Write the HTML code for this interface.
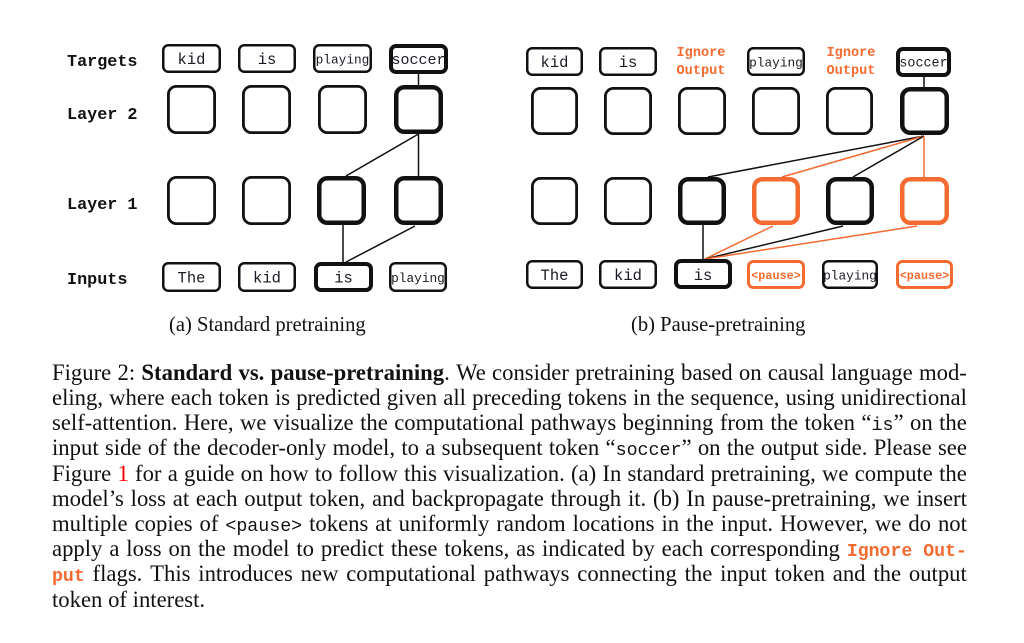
<!DOCTYPE html>
<html>
<head>
<meta charset="utf-8">
<style>
  html,body{margin:0;padding:0;background:#fff;}
  body{width:1024px;height:643px;position:relative;overflow:hidden;}
  .cap{position:absolute;font-family:"Liberation Serif",serif;font-size:20.6px;line-height:23px;color:#111;white-space:nowrap;}
  .ln{position:absolute;left:52px;width:915px;height:25.2px;display:flex;justify-content:space-between;align-items:baseline;font-family:"Liberation Serif",serif;font-size:22.7px;line-height:25.2px;color:#111;white-space:nowrap;}
  .ln span{white-space:pre;}
  .m{font-family:"Liberation Mono",monospace;font-size:18.3px;}
  .o{font-family:"Liberation Mono",monospace;font-size:18.2px;font-weight:bold;color:#F56A30;}
  .r{color:#FF0000;}
  .last{position:absolute;left:52px;font-family:"Liberation Serif",serif;font-size:22.7px;line-height:25.2px;color:#111;white-space:nowrap;}
</style>
</head>
<body>
<svg width="1024" height="643" style="position:absolute;left:0;top:0" xmlns="http://www.w3.org/2000/svg">
  <g font-family="Liberation Mono, monospace" font-weight="bold" font-size="16.8" fill="#111">
    <text x="67" y="66">Targets</text>
    <text x="67" y="119">Layer 2</text>
    <text x="67" y="209">Layer 1</text>
    <text x="67" y="284">Inputs</text>
  </g>

  <g stroke="#111" stroke-width="1.5" fill="none">
    <line x1="418.5" y1="74" x2="418.5" y2="86"/>
    <line x1="418.5" y1="134" x2="346" y2="176"/>
    <line x1="418.5" y1="134" x2="418.5" y2="176"/>
    <line x1="343" y1="225" x2="343" y2="262"/>
    <line x1="415" y1="226" x2="346" y2="262"/>
  </g>

  <g fill="#fff" stroke="#111">
    <rect x="163.25" y="45.25" width="56.5" height="26.5" rx="5" stroke-width="2.5"/>
    <rect x="239.25" y="45.25" width="55.5" height="26.5" rx="5" stroke-width="2.5"/>
    <rect x="314.25" y="45.25" width="56.5" height="26.5" rx="5" stroke-width="2.5"/>
    <rect x="391" y="46" width="55" height="26" rx="5" stroke-width="4"/>
    <rect x="168.4" y="86.4" width="46.2" height="46.2" rx="8" stroke-width="2.8"/>
    <rect x="243.4" y="86.4" width="46.2" height="46.2" rx="8" stroke-width="2.8"/>
    <rect x="319.4" y="86.4" width="46.2" height="46.2" rx="8" stroke-width="2.8"/>
    <rect x="396.25" y="87.25" width="44.5" height="44.5" rx="8" stroke-width="4.5"/>
    <rect x="168.4" y="177.4" width="46.2" height="46.2" rx="8" stroke-width="2.8"/>
    <rect x="243.4" y="177.4" width="46.2" height="46.2" rx="8" stroke-width="2.8"/>
    <rect x="319.25" y="178.25" width="44.5" height="44.5" rx="8" stroke-width="4.5"/>
    <rect x="396.25" y="178.25" width="44.5" height="44.5" rx="8" stroke-width="4.5"/>
    <rect x="163.25" y="263.25" width="56.5" height="27.5" rx="5" stroke-width="2.5"/>
    <rect x="239.25" y="263.25" width="55.5" height="27.5" rx="5" stroke-width="2.5"/>
    <rect x="316" y="264" width="55" height="26" rx="5" stroke-width="4"/>
    <rect x="390.25" y="263.25" width="55.5" height="27.5" rx="5" stroke-width="2.5"/>
  </g>
  <g font-family="Liberation Mono, monospace" fill="#1a1a24" text-anchor="middle">
    <text x="191.5" y="64" font-size="15.5">kid</text>
    <text x="267" y="64" font-size="15.5">is</text>
    <text x="342.5" y="63.5" font-size="12.8">playing</text>
    <text x="418.5" y="64" font-size="15">soccer</text>
    <text x="191.5" y="282.5" font-size="15.5">The</text>
    <text x="267" y="282.5" font-size="15.5">kid</text>
    <text x="343.5" y="282.5" font-size="15.5">is</text>
    <text x="418" y="282" font-size="12.8">playing</text>
  </g>

  <g stroke-width="1.5" fill="none">
    <line x1="924" y1="77" x2="924" y2="88" stroke="#111"/>
    <line x1="924" y1="136" x2="708" y2="177" stroke="#111"/>
    <line x1="924" y1="136" x2="782" y2="177" stroke="#F56A30"/>
    <line x1="924" y1="136" x2="853" y2="177" stroke="#111"/>
    <line x1="924" y1="136" x2="924" y2="177" stroke="#F56A30"/>
    <line x1="703" y1="225" x2="703" y2="259" stroke="#111"/>
    <line x1="773" y1="226" x2="705" y2="259" stroke="#F56A30"/>
    <line x1="843" y1="226" x2="705" y2="259" stroke="#111"/>
    <line x1="917" y1="226" x2="705" y2="259" stroke="#F56A30"/>
  </g>

  <g fill="#fff" stroke="#111">
    <rect x="527.25" y="48.25" width="54.5" height="26.5" rx="5" stroke-width="2.5"/>
    <rect x="600.25" y="48.25" width="55.5" height="26.5" rx="5" stroke-width="2.5"/>
    <rect x="748.25" y="48.25" width="55.5" height="26.5" rx="5" stroke-width="2.5"/>
    <rect x="898" y="49" width="51" height="26" rx="5" stroke-width="4"/>
    <rect x="532.4" y="88.4" width="44.2" height="45.2" rx="8" stroke-width="2.8"/>
    <rect x="605.4" y="88.4" width="45.2" height="45.2" rx="8" stroke-width="2.8"/>
    <rect x="679.4" y="88.4" width="45.2" height="45.2" rx="8" stroke-width="2.8"/>
    <rect x="753.4" y="88.4" width="45.2" height="45.2" rx="8" stroke-width="2.8"/>
    <rect x="827.4" y="88.4" width="44.2" height="45.2" rx="8" stroke-width="2.8"/>
    <rect x="902.25" y="89.25" width="44.5" height="43.5" rx="8" stroke-width="4.5"/>
    <rect x="532.4" y="178.4" width="44.2" height="45.2" rx="8" stroke-width="2.8"/>
    <rect x="605.4" y="178.4" width="45.2" height="45.2" rx="8" stroke-width="2.8"/>
    <rect x="680.25" y="179.25" width="43.5" height="43.5" rx="8" stroke-width="4.5"/>
    <rect x="754.25" y="179.25" width="43.5" height="43.5" rx="8" stroke-width="4.5" stroke="#F56A30"/>
    <rect x="828.25" y="179.25" width="43.5" height="43.5" rx="8" stroke-width="4.5"/>
    <rect x="902.25" y="179.25" width="44.5" height="43.5" rx="8" stroke-width="4.5" stroke="#F56A30"/>
    <rect x="527.25" y="261.25" width="54.5" height="26.5" rx="5" stroke-width="2.5"/>
    <rect x="600.25" y="261.25" width="55.5" height="26.5" rx="5" stroke-width="2.5"/>
    <rect x="676" y="261" width="54" height="26" rx="5" stroke-width="4"/>
    <rect x="748.5" y="261.5" width="55" height="26" rx="5" stroke-width="3" stroke="#F56A30"/>
    <rect x="823.25" y="261.25" width="53.5" height="26.5" rx="5" stroke-width="2.5"/>
    <rect x="897.5" y="261.5" width="54" height="26" rx="5" stroke-width="3" stroke="#F56A30"/>
  </g>
  <g font-family="Liberation Mono, monospace" fill="#1a1a24" text-anchor="middle">
    <text x="554.5" y="67" font-size="15.5">kid</text>
    <text x="628" y="67" font-size="15.5">is</text>
    <text x="776" y="66.5" font-size="12.8">playing</text>
    <text x="923.5" y="66.5" font-size="13.4">soccer</text>
    <text x="554.5" y="280" font-size="15.5">The</text>
    <text x="628" y="280" font-size="15.5">kid</text>
    <text x="703" y="280" font-size="15.5">is</text>
    <text x="850" y="279.5" font-size="12.8">playing</text>
  </g>
  <g font-family="Liberation Mono, monospace" font-weight="bold" fill="#F56A30" text-anchor="middle">
    <text x="701" y="56" font-size="13.6">Ignore</text>
    <text x="701" y="74" font-size="13.6">Output</text>
    <text x="851" y="56" font-size="13.6">Ignore</text>
    <text x="851" y="74" font-size="13.6">Output</text>
    <text x="776" y="279" font-size="11.8">&lt;pause&gt;</text>
    <text x="924.5" y="279" font-size="11.8">&lt;pause&gt;</text>
  </g>
</svg>

<div class="cap" style="left:169px;top:313.6px;">(a) Standard pretraining</div>
<div class="cap" style="left:631px;top:313.6px;">(b) Pause-pretraining</div>

<div class="ln" style="top:359.8px;"><span>Figure</span><span>2:</span><span><b>Standard</b></span><span><b>vs.</b></span><span><b>pause-pretraining</b>.</span><span>We</span><span>consider</span><span>pretraining</span><span>based</span><span>on</span><span>causal</span><span>language</span><span>mod-</span></div>
<div class="ln" style="top:385px;"><span>eling,</span><span>where</span><span>each</span><span>token</span><span>is</span><span>predicted</span><span>given</span><span>all</span><span>preceding</span><span>tokens</span><span>in</span><span>the</span><span>sequence,</span><span>using</span><span>unidirectional</span></div>
<div class="ln" style="top:410.2px;"><span>self-attention.</span><span>Here,</span><span>we</span><span>visualize</span><span>the</span><span>computational</span><span>pathways</span><span>beginning</span><span>from</span><span>the</span><span>token</span><span>“<span class="m">is</span>”</span><span>on</span><span>the</span></div>
<div class="ln" style="top:435.4px;"><span>input</span><span>side</span><span>of</span><span>the</span><span>decoder-only</span><span>model,</span><span>to</span><span>a</span><span>subsequent</span><span>token</span><span>“<span class="m">soccer</span>”</span><span>on</span><span>the</span><span>output</span><span>side.</span><span>Please</span><span>see</span></div>
<div class="ln" style="top:460.6px;"><span>Figure</span><span class="r">1</span><span>for</span><span>a</span><span>guide</span><span>on</span><span>how</span><span>to</span><span>follow</span><span>this</span><span>visualization.</span><span>(a)</span><span>In</span><span>standard</span><span>pretraining,</span><span>we</span><span>compute</span><span>the</span></div>
<div class="ln" style="top:485.8px;"><span>model’s</span><span>loss</span><span>at</span><span>each</span><span>output</span><span>token,</span><span>and</span><span>backpropagate</span><span>through</span><span>it.</span><span>(b)</span><span>In</span><span>pause-pretraining,</span><span>we</span><span>insert</span></div>
<div class="ln" style="top:511px;"><span>multiple</span><span>copies</span><span>of</span><span class="m">&lt;pause&gt;</span><span>tokens</span><span>at</span><span>uniformly</span><span>random</span><span>locations</span><span>in</span><span>the</span><span>input.</span><span>However,</span><span>we</span><span>do</span><span>not</span></div>
<div class="ln" style="top:536.2px;"><span>apply</span><span>a</span><span>loss</span><span>on</span><span>the</span><span>model</span><span>to</span><span>predict</span><span>these</span><span>tokens,</span><span>as</span><span>indicated</span><span>by</span><span>each</span><span>corresponding</span><span class="o">Ignore Out-</span></div>
<div class="ln" style="top:561.4px;"><span><span class="o">put</span></span><span>flags.</span><span>This</span><span>introduces</span><span>new</span><span>computational</span><span>pathways</span><span>connecting</span><span>the</span><span>input</span><span>token</span><span>and</span><span>the</span><span>output</span></div>
<div class="last" style="top:586.6px;">token of interest.</div>
</body>
</html>
